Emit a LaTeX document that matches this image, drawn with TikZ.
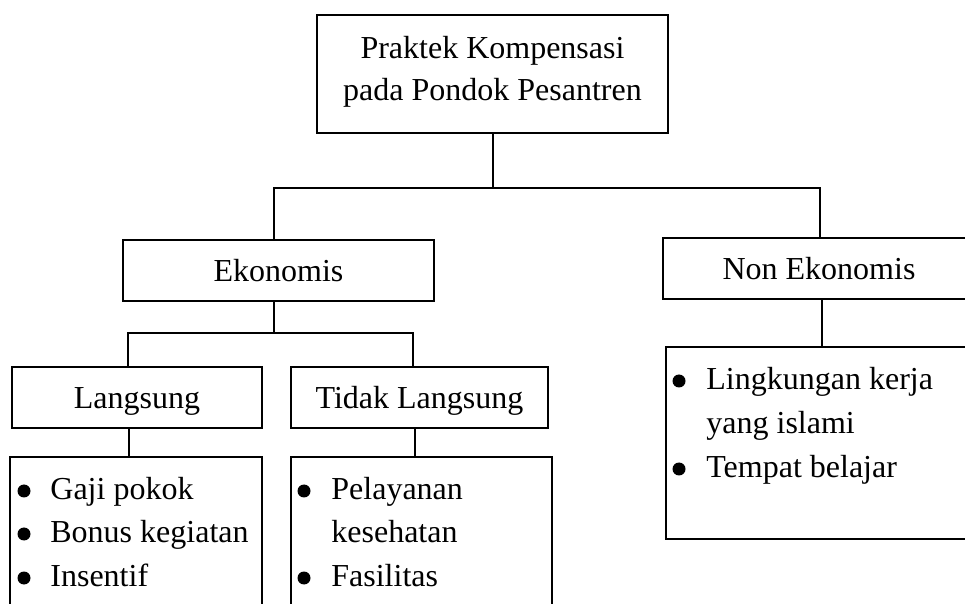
\documentclass[tikz,border=0pt]{standalone}
\usepackage{fontspec}
\setmainfont{Liberation Serif}
\begin{document}
\begin{tikzpicture}[x=0.5pt,y=-0.5pt,
  font=\fontsize{16}{22}\selectfont,
  box/.style={draw, line width=1pt, inner sep=0pt, anchor=center},
  head/.style={box, text height=1.2em, text depth=0.1em},
  conn/.style={line width=1pt},
  item/.style={anchor=base west, inner sep=0pt},
  dot/.style={fill=black}]
\useasboundingbox (0,0) rectangle (965,604);
\clip (0,0) rectangle (965,604);

% root box
\node[box, minimum width=175.5pt, minimum height=59pt] (root) at (492.5,74) {};
\node[anchor=base, inner sep=0pt] (rootA) at (492.5,59) {Praktek Kompensasi};
\node[anchor=base, inner sep=0pt] (rootB) at (492.5,101) {pada Pondok Pesantren};

% second level
\node[head, minimum width=155.5pt, minimum height=30.5pt] (eko) at (278.5,270.5) {Ekonomis};
\node[head, minimum width=156pt, minimum height=30.5pt] (nonek) at (819,268.5) {Non Ekonomis};

% third level
\node[head, minimum width=125pt, minimum height=30.5pt] (lang) at (137,397.5) {Langsung};
\node[head, minimum width=128.5pt, minimum height=30.5pt] (tidak) at (419.5,397.5) {Tidak Langsung};

% lists
\node[box, minimum width=126pt, minimum height=81.5pt] (langL) at (136,538.5) {};
\node[box, minimum width=130.5pt, minimum height=81.5pt] (tidakL) at (421.5,538.5) {};
\node[box, minimum width=154.5pt, minimum height=96pt] (nonekL) at (820.5,443) {};

% connectors
\coordinate (busA) at (492.5,188);
\coordinate (busB) at (274,333);
\draw[conn] (root.south) -- (busA);
\draw[conn] ([xshift=-2.25pt]eko.north) |- (busA) -| ([xshift=0.5pt]nonek.north);
\draw[conn] ([xshift=-2.25pt]eko.south) -- (busB);
\draw[conn] ([xshift=-4.5pt]lang.north) |- (busB) -| ([xshift=-3.25pt]tidak.north);
\draw[conn] ([xshift=-4pt]lang.south) -- ([xshift=-3.5pt]langL.north);
\draw[conn] ([xshift=-2.25pt]tidak.south) -- ([xshift=-3.25pt]tidakL.north);
\draw[conn] ([xshift=0.75pt]nonekL.north) -- ([xshift=0.75pt]nonekL.north |- nonek.south);

% list items: Langsung
\fill[dot] (24,491) circle[radius=6.5];
\node[item] (l1) at (50,500) {Gaji pokok};
\fill[dot] (24,534) circle[radius=6.5];
\node[item] (l2) at (50,543) {Bonus kegiatan};
\fill[dot] (24,578) circle[radius=6.5];
\node[item] (l3) at (50,587) {Insentif};

% list items: Tidak Langsung
\fill[dot] (304,491) circle[radius=6.5];
\node[item] (t1) at (331,500) {Pelayanan};
\node[item] (t2) at (331,543) {kesehatan};
\fill[dot] (304,578) circle[radius=6.5];
\node[item] (t3) at (331,587) {Fasilitas};

% list items: Non Ekonomis
\fill[dot] (679,381) circle[radius=6.5];
\node[item] (n1) at (706,390) {Lingkungan kerja};
\node[item] (n2) at (706,434) {yang islami};
\fill[dot] (679,469) circle[radius=6.5];
\node[item] (n3) at (706,478) {Tempat belajar};
\end{tikzpicture}
\end{document}
